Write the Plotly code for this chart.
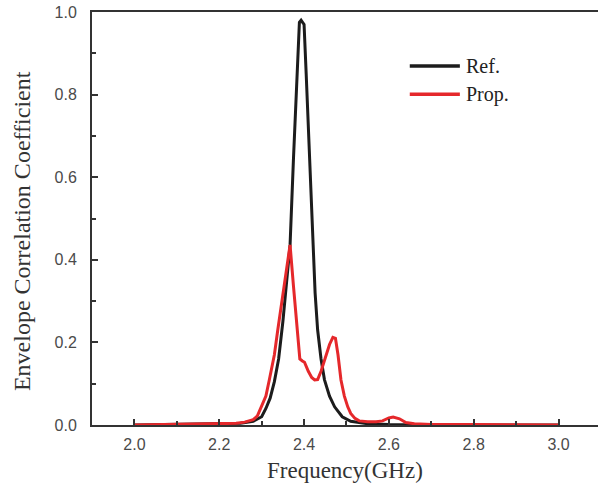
import plotly.graph_objects as go

# Ref. antenna ECC
ref_freq = [2.0, 2.1, 2.2, 2.25, 2.28, 2.30, 2.31, 2.32, 2.33, 2.34, 2.35, 2.36, 2.367, 2.375,
            2.382, 2.389, 2.393, 2.400, 2.405, 2.412, 2.420, 2.426, 2.432, 2.44, 2.448, 2.46,
            2.472, 2.49, 2.51, 2.55, 2.6, 2.7, 2.8, 2.9, 3.0]
ref_ecc = [0.0, 0.001, 0.002, 0.004, 0.009, 0.02, 0.04, 0.065, 0.105, 0.16, 0.25, 0.35, 0.436, 0.645,
           0.83, 0.975, 0.98, 0.97, 0.85, 0.66, 0.436, 0.32, 0.23, 0.16, 0.11, 0.07,
           0.044, 0.02, 0.009, 0.003, 0.001, 0.0, 0.0, 0.0, 0.0]

# Proposed antenna ECC
prop_freq = [2.0, 2.1, 2.2, 2.24, 2.26, 2.28, 2.29, 2.30, 2.31, 2.318, 2.33, 2.338, 2.35, 2.36,
             2.367, 2.375, 2.383, 2.390, 2.396, 2.401, 2.41, 2.418, 2.425, 2.432, 2.44, 2.45,
             2.46, 2.468, 2.474, 2.48, 2.487, 2.495, 2.503, 2.51, 2.52, 2.53, 2.55, 2.57, 2.585,
             2.60, 2.61, 2.625, 2.64, 2.66, 2.7, 2.8, 2.9, 3.0]
prop_ecc = [0.0, 0.001, 0.002, 0.004, 0.007, 0.013, 0.022, 0.045, 0.07, 0.109, 0.17, 0.23, 0.32, 0.39,
            0.436, 0.336, 0.235, 0.16, 0.155, 0.152, 0.13, 0.115, 0.109, 0.11, 0.13, 0.16,
            0.195, 0.212, 0.21, 0.17, 0.109, 0.07, 0.044, 0.028, 0.016, 0.01, 0.008, 0.008, 0.01,
            0.017, 0.019, 0.015, 0.006, 0.003, 0.001, 0.001, 0.0, 0.0]

series_names = ["Ref.", "Prop."]
series_colors = ["#1c1c1c", "#e5282b"]
x_major = [2.0, 2.2, 2.4, 2.6, 2.8, 3.0]
x_minor = [1.9, 2.1, 2.3, 2.5, 2.7, 2.9]
y_major = [0.0, 0.2, 0.4, 0.6, 0.8, 1.0]
y_minor = [0.1, 0.3, 0.5, 0.7, 0.9]
x_title = "Frequency(GHz)"
y_title = "Envelope Correlation Coefficient"
x_range = [1.9, 3.093]
y_range = [0, 1.0]

fig = go.Figure()
fig.add_trace(go.Scatter(x=ref_freq, y=ref_ecc, mode="lines", name=series_names[0],
                         line=dict(color=series_colors[0], width=3)))
fig.add_trace(go.Scatter(x=prop_freq, y=prop_ecc, mode="lines", name=series_names[1],
                         line=dict(color=series_colors[1], width=3)))
# empty traces so that the tick-only overlay axes get drawn
for ax_x, ax_y in [("x2", "y2"), ("x3", "y3")]:
    fig.add_trace(go.Scatter(x=[], y=[], xaxis=ax_x, yaxis=ax_y, showlegend=False,
                             hoverinfo="skip"))

tickfont = dict(family="Liberation Sans, Arial", size=16, color="#4a4a4a")
label_axis = dict(showline=True, linecolor="#333333", linewidth=2, ticks="",
                  showgrid=False, zeroline=False, automargin=False, tickfont=tickfont,
                  tickmode="array", ticklabeloverflow="allow")
tick_axis = dict(showline=False, showgrid=False, zeroline=False, showticklabels=False,
                 ticks="inside", tickwidth=1.5, tickcolor="#333333", tickmode="array",
                 automargin=False)

fig.update_layout(
    width=598, height=490,
    margin=dict(l=92, r=0, t=12, b=65),
    paper_bgcolor="white", plot_bgcolor="white",
    xaxis=dict(range=x_range, tickvals=x_major, ticktext=[f"{v:.1f}" for v in x_major],
               mirror=True, ticklabelstandoff=4, **label_axis),
    yaxis=dict(range=y_range, tickvals=y_major, ticktext=[f"{v:.1f}" for v in y_major],
               ticklabelstandoff=10, **label_axis),
    xaxis2=dict(range=x_range, overlaying="x", anchor="y", side="bottom",
                tickvals=x_major, ticklen=6, **tick_axis),
    xaxis3=dict(range=x_range, overlaying="x", anchor="y", side="bottom",
                tickvals=x_minor, ticklen=4, **tick_axis),
    yaxis2=dict(range=y_range, overlaying="y", anchor="x", side="left",
                tickvals=y_major, ticklen=6, **tick_axis),
    yaxis3=dict(range=y_range, overlaying="y", anchor="x", side="left",
                tickvals=y_minor, ticklen=4, **tick_axis),
    showlegend=False,
)

titlefont = dict(family="Liberation Serif, Times New Roman", color="#333333")
fig.add_annotation(text=x_title, xref="paper", yref="paper", x=0.5, y=-0.11,
                   xanchor="center", yanchor="middle", showarrow=False,
                   font=dict(size=23, **titlefont))
fig.add_annotation(text=y_title, xref="paper", yref="paper", x=-0.138, y=0.47,
                   xanchor="center", yanchor="middle", showarrow=False, textangle=-90,
                   font=dict(size=24, **titlefont))

# manual legend (line samples + labels)
legend_y = [0.869, 0.801]
for name, col, ly in zip(series_names, series_colors, legend_y):
    fig.add_shape(type="line", xref="paper", yref="paper", x0=0.628, x1=0.727, y0=ly, y1=ly,
                  line=dict(color=col, width=3.5))
    fig.add_annotation(text=name, xref="paper", yref="paper", x=0.735, y=ly,
                       xanchor="left", yanchor="middle", showarrow=False,
                       font=dict(family="Liberation Serif, Times New Roman", size=20, color="#222222"))

# remove the default 8px page margin so the 598x490 figure fills the window
fig.write_html("out.html", config={"displayModeBar": False},
               post_script="document.body.style.margin='0';")
